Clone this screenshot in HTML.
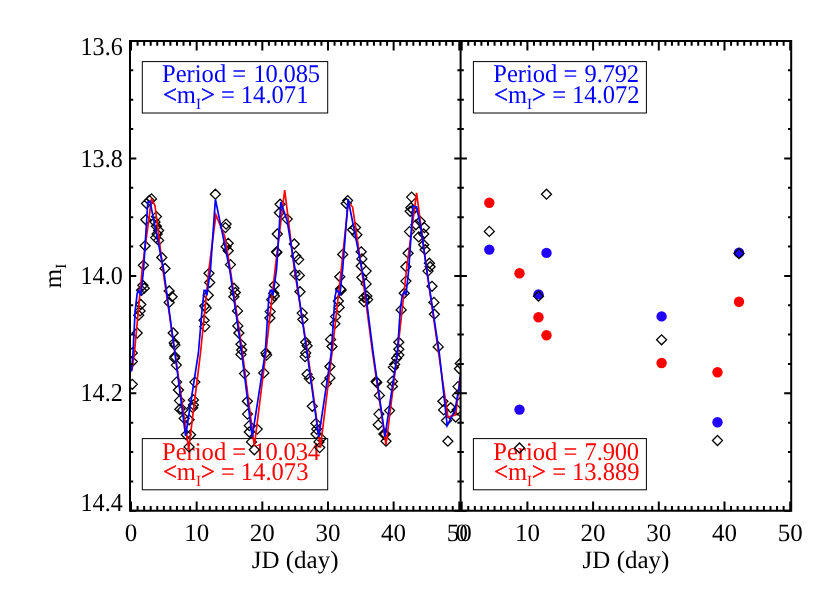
<!DOCTYPE html>
<html><head><meta charset="utf-8"><title>Light curve</title>
<style>html,body{margin:0;padding:0;background:#fff;}svg{display:block;will-change:transform;}text{font-family:"Liberation Serif",serif;text-rendering:geometricPrecision;}</style>
</head><body>
<svg width="830" height="593" viewBox="0 0 830 593">
<rect width="830" height="593" fill="#fff"/>
<defs><clipPath id="cl"><rect x="130.0" y="41.0" width="330.6" height="469.85"/></clipPath>
<clipPath id="cr"><rect x="460.6" y="41.0" width="330.6" height="469.85"/></clipPath></defs>
<rect x="142.3" y="61.6" width="185.39999999999998" height="51.4" fill="none" stroke="#000" stroke-width="1.0"/>
<rect x="142.3" y="438.6" width="185.39999999999998" height="51.19999999999999" fill="none" stroke="#000" stroke-width="1.0"/>
<rect x="473.4" y="61.6" width="173.0" height="51.4" fill="none" stroke="#000" stroke-width="1.0"/>
<rect x="473.4" y="438.6" width="173.0" height="51.19999999999999" fill="none" stroke="#000" stroke-width="1.0"/>
<text transform="translate(162.0,82.1) scale(1,1.035)" font-size="24.6" fill="#00f">Period =<tspan dx="7.2" letter-spacing="-0.2">10.085</tspan></text>
<text transform="translate(162.9,102.7) scale(1,1.035)" font-size="24.6" fill="#00f"><tspan stroke="#00f" stroke-width="0.5">&lt;</tspan>m<tspan font-size="15.0" dy="5.8">I</tspan><tspan dy="-5.8" stroke="#00f" stroke-width="0.5">&gt;</tspan> =<tspan dx="6.0">14.071</tspan></text>
<text transform="translate(162.0,459.8) scale(1,1.035)" font-size="24.6" fill="#f00">Period =<tspan dx="7.2" letter-spacing="-0.2">10.034</tspan></text>
<text transform="translate(162.9,480.4) scale(1,1.035)" font-size="24.6" fill="#f00"><tspan stroke="#f00" stroke-width="0.5">&lt;</tspan>m<tspan font-size="15.0" dy="5.8">I</tspan><tspan dy="-5.8" stroke="#f00" stroke-width="0.5">&gt;</tspan> =<tspan dx="6.0">14.073</tspan></text>
<text transform="translate(493.2,82.1) scale(1,1.035)" font-size="24.6" fill="#00f">Period =<tspan dx="7.2" letter-spacing="-0.2">9.792</tspan></text>
<text transform="translate(494.09999999999997,102.7) scale(1,1.035)" font-size="24.6" fill="#00f"><tspan stroke="#00f" stroke-width="0.5">&lt;</tspan>m<tspan font-size="15.0" dy="5.8">I</tspan><tspan dy="-5.8" stroke="#00f" stroke-width="0.5">&gt;</tspan> =<tspan dx="6.0">14.072</tspan></text>
<text transform="translate(493.2,459.8) scale(1,1.035)" font-size="24.6" fill="#f00">Period =<tspan dx="7.2" letter-spacing="-0.2">7.900</tspan></text>
<text transform="translate(494.09999999999997,480.4) scale(1,1.035)" font-size="24.6" fill="#f00"><tspan stroke="#f00" stroke-width="0.5">&lt;</tspan>m<tspan font-size="15.0" dy="5.8">I</tspan><tspan dy="-5.8" stroke="#f00" stroke-width="0.5">&gt;</tspan> =<tspan dx="6.0">13.889</tspan></text>
<g clip-path="url(#cl)">
<path d="M210.4 194.2L215.4 189.2L220.4 194.2L215.4 199.2ZM146.5 198.9L151.5 193.9L156.5 198.9L151.5 203.9ZM144.3 200.4L149.3 195.4L154.3 200.4L149.3 205.4ZM141.5 203.5L146.5 198.5L151.5 203.5L146.5 208.5ZM140.8 219.8L145.8 214.8L150.8 219.8L145.8 224.8ZM151.4 216.6L156.4 211.6L161.4 216.6L156.4 221.6ZM150.0 222.0L155.0 217.0L160.0 222.0L155.0 227.0ZM151.4 226.2L156.4 221.2L161.4 226.2L156.4 231.2ZM153.6 230.5L158.6 225.5L163.6 230.5L158.6 235.5ZM152.1 234.0L157.1 229.0L162.1 234.0L157.1 239.0ZM150.7 237.6L155.7 232.6L160.7 237.6L155.7 242.6ZM153.6 240.4L158.6 235.4L163.6 240.4L158.6 245.4ZM140.1 245.8L145.1 240.8L150.1 245.8L145.1 250.8ZM156.8 257.5L161.8 252.5L166.8 257.5L161.8 262.5ZM138.4 265.3L143.4 260.3L148.4 265.3L143.4 270.3ZM160.0 268.5L165.0 263.5L170.0 268.5L165.0 273.5ZM221.1 224.1L226.1 219.1L231.1 224.1L226.1 229.1ZM220.4 227.6L225.4 222.6L230.4 227.6L225.4 232.6ZM223.2 243.3L228.2 238.3L233.2 243.3L228.2 248.3ZM221.1 246.8L226.1 241.8L231.1 246.8L226.1 251.8ZM223.2 250.7L228.2 245.7L233.2 250.7L228.2 255.7ZM225.4 264.6L230.4 259.6L235.4 264.6L230.4 269.6ZM137.9 285.3L142.9 280.3L147.9 285.3L142.9 290.3ZM139.3 288.2L144.3 283.2L149.3 288.2L144.3 293.2ZM136.5 290.3L141.5 285.3L146.5 290.3L141.5 295.3ZM164.2 291.0L169.2 286.0L174.2 291.0L169.2 296.0ZM167.1 296.7L172.1 291.7L177.1 296.7L172.1 301.7ZM164.2 302.4L169.2 297.4L174.2 302.4L169.2 307.4ZM135.8 304.5L140.8 299.5L145.8 304.5L140.8 309.5ZM135.1 310.9L140.1 305.9L145.1 310.9L140.1 315.9ZM133.7 315.2L138.7 310.2L143.7 315.2L138.7 320.2ZM132.2 333.0L137.2 328.0L142.2 333.0L137.2 338.0ZM168.2 333.0L173.2 328.0L178.2 333.0L173.2 338.0ZM169.2 342.9L174.2 337.9L179.2 342.9L174.2 347.9ZM169.9 345.0L174.9 340.0L179.9 345.0L174.9 350.0ZM127.3 352.9L132.3 347.9L137.3 352.9L132.3 357.9ZM204.0 273.3L209.0 268.3L214.0 273.3L209.0 278.3ZM204.7 282.5L209.7 277.5L214.7 282.5L209.7 287.5ZM203.3 295.3L208.3 290.3L213.3 295.3L208.3 300.3ZM199.8 306.0L204.8 301.0L209.8 306.0L204.8 311.0ZM201.2 308.1L206.2 303.1L211.2 308.1L206.2 313.1ZM199.1 320.2L204.1 315.2L209.1 320.2L204.1 325.2ZM199.8 326.6L204.8 321.6L209.8 326.6L204.8 331.6ZM228.9 288.2L233.9 283.2L238.9 288.2L233.9 293.2ZM230.3 292.5L235.3 287.5L240.3 292.5L235.3 297.5ZM228.9 296.7L233.9 291.7L238.9 296.7L233.9 301.7ZM232.5 310.9L237.5 305.9L242.5 310.9L237.5 315.9ZM232.8 325.9L237.8 320.9L242.8 325.9L237.8 330.9ZM233.9 333.0L238.9 328.0L243.9 333.0L238.9 338.0ZM236.0 344.3L241.0 339.3L246.0 344.3L241.0 349.3ZM236.7 350.0L241.7 345.0L246.7 350.0L241.7 355.0ZM127.3 361.5L132.3 356.5L137.3 361.5L132.3 366.5ZM127.3 384.3L132.3 379.3L137.3 384.3L132.3 389.3ZM169.9 356.6L174.9 351.6L179.9 356.6L174.9 361.6ZM169.5 358.2L174.5 353.2L179.5 358.2L174.5 363.2ZM171.3 365.1L176.3 360.1L181.3 365.1L176.3 370.1ZM171.6 382.1L176.6 377.1L181.6 382.1L176.6 387.1ZM189.8 382.1L194.8 377.1L199.8 382.1L194.8 387.1ZM173.5 390.0L178.5 385.0L183.5 390.0L178.5 395.0ZM174.5 400.6L179.5 395.6L184.5 400.6L179.5 405.6ZM188.4 399.9L193.4 394.9L198.4 399.9L193.4 404.9ZM188.4 404.9L193.4 399.9L198.4 404.9L193.4 409.9ZM187.7 407.7L192.7 402.7L197.7 407.7L192.7 412.7ZM174.9 409.2L179.9 404.2L184.9 409.2L179.9 414.2ZM177.7 409.9L182.7 404.9L187.7 409.9L182.7 414.9ZM179.2 418.4L184.2 413.4L189.2 418.4L184.2 423.4ZM184.1 419.8L189.1 414.8L194.1 419.8L189.1 424.8ZM181.3 434.8L186.3 429.8L191.3 434.8L186.3 439.8ZM185.6 434.8L190.6 429.8L195.6 434.8L190.6 439.8ZM184.1 446.9L189.1 441.9L194.1 446.9L189.1 451.9ZM236.0 354.4L241.0 349.4L246.0 354.4L241.0 359.4ZM275.1 204.2L280.1 199.2L285.1 204.2L280.1 209.2ZM274.4 212.7L279.4 207.7L284.4 212.7L279.4 217.7ZM282.2 219.1L287.2 214.1L292.2 219.1L287.2 224.1ZM272.3 234.0L277.3 229.0L282.3 234.0L277.3 239.0ZM289.3 244.0L294.3 239.0L299.3 244.0L294.3 249.0ZM271.6 251.8L276.6 246.8L281.6 251.8L276.6 256.8ZM271.9 252.5L276.9 247.5L281.9 252.5L276.9 257.5ZM290.8 256.1L295.8 251.1L300.8 256.1L295.8 261.1ZM293.6 259.6L298.6 254.6L303.6 259.6L298.6 264.6ZM342.6 200.6L347.6 195.6L352.6 200.6L347.6 205.6ZM341.2 203.5L346.2 198.5L351.2 203.5L346.2 208.5ZM350.5 227.6L355.5 222.6L360.5 227.6L355.5 232.6ZM347.6 229.8L352.6 224.8L357.6 229.8L352.6 234.8ZM351.9 234.8L356.9 229.8L361.9 234.8L356.9 239.8ZM337.7 254.4L342.7 249.4L347.7 254.4L342.7 259.4ZM356.2 251.8L361.2 246.8L366.2 251.8L361.2 256.8ZM356.9 258.9L361.9 253.9L366.9 258.9L361.9 263.9ZM356.2 266.0L361.2 261.0L366.2 266.0L361.2 271.0ZM269.4 285.3L274.4 280.3L279.4 285.3L274.4 290.3ZM268.7 293.2L273.7 288.2L278.7 293.2L273.7 298.2ZM269.4 296.0L274.4 291.0L279.4 296.0L274.4 301.0ZM266.6 299.6L271.6 294.6L276.6 299.6L271.6 304.6ZM265.2 311.6L270.2 306.6L275.2 311.6L270.2 316.6ZM264.9 318.0L269.9 313.0L274.9 318.0L269.9 323.0ZM260.9 352.9L265.9 347.9L270.9 352.9L265.9 357.9ZM290.0 274.0L295.0 269.0L300.0 274.0L295.0 279.0ZM294.3 275.4L299.3 270.4L304.3 275.4L299.3 280.4ZM295.0 291.7L300.0 286.7L305.0 291.7L300.0 296.7ZM297.2 313.1L302.2 308.1L307.2 313.1L302.2 318.1ZM297.9 319.5L302.9 314.5L307.9 319.5L302.9 324.5ZM300.7 342.2L305.7 337.2L310.7 342.2L305.7 347.2ZM302.1 345.8L307.1 340.8L312.1 345.8L307.1 350.8ZM300.7 352.9L305.7 347.9L310.7 352.9L305.7 357.9ZM334.8 276.8L339.8 271.8L344.8 276.8L339.8 281.8ZM335.5 288.9L340.5 283.9L345.5 288.9L340.5 293.9ZM336.2 290.0L341.2 285.0L346.2 290.0L341.2 295.0ZM333.4 301.0L338.4 296.0L343.4 301.0L338.4 306.0ZM334.1 307.4L339.1 302.4L344.1 307.4L339.1 312.4ZM330.6 316.6L335.6 311.6L340.6 316.6L335.6 321.6ZM329.9 323.7L334.9 318.7L339.9 323.7L334.9 328.7ZM325.6 339.4L330.6 334.4L335.6 339.4L330.6 344.4ZM327.0 346.5L332.0 341.5L337.0 346.5L332.0 351.5ZM356.9 277.5L361.9 272.5L366.9 277.5L361.9 282.5ZM359.0 297.4L364.0 292.4L369.0 297.4L364.0 302.4ZM359.0 301.7L364.0 296.7L369.0 301.7L364.0 306.7ZM261.6 355.1L266.6 350.1L271.6 355.1L266.6 360.1ZM258.8 372.9L263.8 367.9L268.8 372.9L263.8 377.9ZM239.5 373.6L244.5 368.6L249.5 373.6L244.5 378.6ZM242.4 401.3L247.4 396.3L252.4 401.3L247.4 406.3ZM242.5 414.1L247.5 409.1L252.5 414.1L247.5 419.1ZM252.2 429.1L257.2 424.1L262.2 429.1L257.2 434.1ZM244.3 425.6L249.3 420.6L254.3 425.6L249.3 430.6ZM244.3 432.0L249.3 427.0L254.3 432.0L249.3 437.0ZM246.5 441.9L251.5 436.9L256.5 441.9L251.5 446.9ZM249.3 449.8L254.3 444.8L259.3 449.8L254.3 454.8ZM300.0 356.6L305.0 351.6L310.0 356.6L305.0 361.6ZM302.1 374.3L307.1 369.3L312.1 374.3L307.1 379.3ZM304.3 378.6L309.3 373.6L314.3 378.6L309.3 383.6ZM324.9 366.5L329.9 361.5L334.9 366.5L329.9 371.5ZM324.9 377.9L329.9 372.9L334.9 377.9L329.9 382.9ZM321.3 383.6L326.3 378.6L331.3 383.6L326.3 388.6ZM307.3 406.3L312.3 401.3L317.3 406.3L312.3 411.3ZM310.9 423.4L315.9 418.4L320.9 423.4L315.9 428.4ZM311.7 429.1L316.7 424.1L321.7 429.1L316.7 434.1ZM311.0 434.0L316.0 429.0L321.0 434.0L316.0 439.0ZM316.1 438.4L321.1 433.4L326.1 438.4L321.1 443.4ZM314.0 441.9L319.0 436.9L324.0 441.9L319.0 446.9ZM314.7 447.6L319.7 442.6L324.7 447.6L319.7 452.6ZM406.6 197.1L411.6 192.1L416.6 197.1L411.6 202.1ZM405.9 207.7L410.9 202.7L415.9 207.7L410.9 212.7ZM405.2 211.3L410.2 206.3L415.2 211.3L410.2 216.3ZM408.0 209.9L413.0 204.9L418.0 209.9L413.0 214.9ZM415.2 221.3L420.2 216.3L425.2 221.3L420.2 226.3ZM410.9 224.8L415.9 219.8L420.9 224.8L415.9 229.8ZM419.4 227.6L424.4 222.6L429.4 227.6L424.4 232.6ZM404.5 231.6L409.5 226.6L414.5 231.6L409.5 236.6ZM418.7 234.0L423.7 229.0L428.7 234.0L423.7 239.0ZM413.7 236.9L418.7 231.9L423.7 236.9L418.7 241.9ZM418.7 244.7L423.7 239.7L428.7 244.7L423.7 249.7ZM420.1 249.7L425.1 244.7L430.1 249.7L425.1 254.7ZM403.1 253.2L408.1 248.2L413.1 253.2L408.1 258.2ZM424.4 263.2L429.4 258.2L434.4 263.2L429.4 268.2ZM425.1 266.7L430.1 261.7L435.1 266.7L430.1 271.7ZM400.9 266.7L405.9 261.7L410.9 266.7L405.9 271.7ZM361.1 271.1L366.1 266.1L371.1 271.1L366.1 276.1ZM361.1 283.9L366.1 278.9L371.1 283.9L366.1 288.9ZM361.8 296.0L366.8 291.0L371.8 296.0L366.8 301.0ZM362.6 299.6L367.6 294.6L372.6 299.6L367.6 304.6ZM400.9 281.1L405.9 276.1L410.9 281.1L405.9 286.1ZM399.2 293.2L404.2 288.2L409.2 293.2L404.2 298.2ZM396.2 309.9L401.2 304.9L406.2 309.9L401.2 314.9ZM393.8 342.2L398.8 337.2L403.8 342.2L398.8 347.2ZM393.8 349.3L398.8 344.3L403.8 349.3L398.8 354.3ZM423.0 271.1L428.0 266.1L433.0 271.1L428.0 276.1ZM427.0 286.3L432.0 281.3L437.0 286.3L432.0 291.3ZM428.9 302.4L433.9 297.4L438.9 302.4L433.9 307.4ZM429.4 314.2L434.4 309.2L439.4 314.2L434.4 319.2ZM433.2 346.9L438.2 341.9L443.2 346.9L438.2 351.9ZM393.8 355.1L398.8 350.1L403.8 355.1L398.8 360.1ZM391.6 358.2L396.6 353.2L401.6 358.2L396.6 363.2ZM389.6 364.4L394.6 359.4L399.6 364.4L394.6 369.4ZM388.4 367.3L393.4 362.3L398.4 367.3L393.4 372.3ZM371.1 381.4L376.1 376.4L381.1 381.4L376.1 386.4ZM371.8 382.5L376.8 377.5L381.8 382.5L376.8 387.5ZM387.4 381.4L392.4 376.4L397.4 381.4L392.4 386.4ZM387.4 386.4L392.4 381.4L397.4 386.4L392.4 391.4ZM374.4 395.4L379.4 390.4L384.4 395.4L379.4 400.4ZM384.6 410.6L389.6 405.6L394.6 410.6L389.6 415.6ZM373.9 414.1L378.9 409.1L383.9 414.1L378.9 419.1ZM373.2 424.8L378.2 419.8L383.2 424.8L378.2 429.8ZM378.9 434.0L383.9 429.0L388.9 434.0L383.9 439.0ZM380.3 434.1L385.3 429.1L390.3 434.1L385.3 439.1ZM381.0 441.2L386.0 436.2L391.0 441.2L386.0 446.2ZM455.3 363.5L460.3 358.5L465.3 363.5L460.3 368.5ZM454.4 368.8L459.4 363.8L464.4 368.8L459.4 373.8ZM453.0 386.6L458.0 381.6L463.0 386.6L458.0 391.6ZM452.4 395.4L457.4 390.4L462.4 395.4L457.4 400.4ZM437.9 401.3L442.9 396.3L447.9 401.3L442.9 406.3ZM445.7 407.7L450.7 402.7L455.7 407.7L450.7 412.7ZM438.6 409.9L443.6 404.9L448.6 409.9L443.6 414.9ZM452.1 409.9L457.1 404.9L462.1 409.9L457.1 414.9ZM441.5 420.5L446.5 415.5L451.5 420.5L446.5 425.5ZM450.7 417.0L455.7 412.0L460.7 417.0L455.7 422.0ZM442.9 441.2L447.9 436.2L452.9 441.2L447.9 446.2Z" fill="none" stroke="#000" stroke-width="1.3"/>
<polyline points="132.0,370 134.4,353 142.2,269 151.5,199.2 155,205.5 162.8,269 175.0,353 188.7,449.2 200.5,353 209,269 215.9,214.9 224.7,236.2 230.2,269 242.5,353 254.3,446.2 265.9,353 275.1,269 284.7,190 294.3,269 307.7,353 320.4,447.6 332,353 341.3,269 348.4,202 352.6,207 361.6,269 372.6,353 386,444.8 397.4,353 406.6,269 416.6,192.8 426.6,269 438.6,353 447.9,417.1 455.7,414.9 460,377" fill="none" stroke="#f00" stroke-width="1.7" stroke-linejoin="miter"/>
<polyline points="131.6,371.5 133,353 135.1,311.6 137.2,293.2 138.7,290.3 140.8,295.3 143.6,269 147.8,202.4 150,201.3 163.5,269 174.9,353 185.6,436 198.4,353 201.9,311.6 204.1,290.3 205.5,290.3 206.9,295.3 210.5,269 215.4,199.2 229.6,269 241.7,353 252.2,437 265.2,353 268.7,299.6 270.2,290.3 271.6,290.3 273,295.3 276.6,269 280.8,202.1 287.2,221 295,269 307.1,353 318.7,437 331.3,353 334.9,297.4 336.3,290.3 338.4,291.7 339.8,296 342.7,269 348.1,199.2 361.9,269 364,280.4 373.2,353 385,436.3 397.4,353 400.3,308.8 402.4,294.6 404.5,291.7 405.9,295.3 408.8,269 413,206.3 416.6,207 420.9,227.6 426.6,269 439.3,353 447.2,425.6 455,409.9 459.3,385.7 460.5,375" fill="none" stroke="#00f" stroke-width="1.7" stroke-linejoin="miter"/>
</g>
<g clip-path="url(#cr)">
<circle cx="489.3" cy="202.7" r="5.2" fill="#f00"/>
<circle cx="519.5" cy="273.2" r="5.2" fill="#f00"/>
<circle cx="538.5" cy="317.3" r="5.2" fill="#f00"/>
<circle cx="546.5" cy="335.3" r="5.2" fill="#f00"/>
<circle cx="661.6" cy="363.0" r="5.2" fill="#f00"/>
<circle cx="717.5" cy="372.2" r="5.2" fill="#f00"/>
<circle cx="739.0" cy="301.8" r="5.2" fill="#f00"/>
<circle cx="489.3" cy="249.6" r="5.2" fill="#2200ff"/>
<circle cx="519.5" cy="409.6" r="5.2" fill="#2200ff"/>
<circle cx="538.5" cy="294.4" r="5.2" fill="#2200ff"/>
<circle cx="546.5" cy="252.9" r="5.2" fill="#2200ff"/>
<circle cx="661.6" cy="316.4" r="5.2" fill="#2200ff"/>
<circle cx="717.5" cy="422.3" r="5.2" fill="#2200ff"/>
<circle cx="739.0" cy="252.6" r="5.2" fill="#2200ff"/>
<path d="M484.3 231.4L489.3 226.4L494.3 231.4L489.3 236.4ZM514.5 448.0L519.5 443.0L524.5 448.0L519.5 453.0ZM533.5 296.2L538.5 291.2L543.5 296.2L538.5 301.2ZM541.5 194.2L546.5 189.2L551.5 194.2L546.5 199.2ZM656.6 339.8L661.6 334.8L666.6 339.8L661.6 344.8ZM712.5 440.5L717.5 435.5L722.5 440.5L717.5 445.5ZM734.0 253.5L739.0 248.5L744.0 253.5L739.0 258.5Z" fill="none" stroke="#000" stroke-width="1.3"/>
</g>
<g stroke="#000" stroke-width="2.0" fill="none" stroke-linecap="butt">
<path d="M130.0 40.0V511.85M460.6 40.0V511.85M791.2 40.0V511.85M129.0 41.0H792.2M129.0 510.85H792.2"/>
<path d="M131.00 41.0v9.4M131.00 510.85v-9.4M137.57 41.0v4.8M137.57 510.85v-4.8M144.13 41.0v4.8M144.13 510.85v-4.8M150.70 41.0v4.8M150.70 510.85v-4.8M157.26 41.0v4.8M157.26 510.85v-4.8M163.83 41.0v4.8M163.83 510.85v-4.8M170.40 41.0v4.8M170.40 510.85v-4.8M176.96 41.0v4.8M176.96 510.85v-4.8M183.53 41.0v4.8M183.53 510.85v-4.8M190.09 41.0v4.8M190.09 510.85v-4.8M196.66 41.0v9.4M196.66 510.85v-9.4M203.23 41.0v4.8M203.23 510.85v-4.8M209.79 41.0v4.8M209.79 510.85v-4.8M216.36 41.0v4.8M216.36 510.85v-4.8M222.92 41.0v4.8M222.92 510.85v-4.8M229.49 41.0v4.8M229.49 510.85v-4.8M236.06 41.0v4.8M236.06 510.85v-4.8M242.62 41.0v4.8M242.62 510.85v-4.8M249.19 41.0v4.8M249.19 510.85v-4.8M255.75 41.0v4.8M255.75 510.85v-4.8M262.32 41.0v9.4M262.32 510.85v-9.4M268.89 41.0v4.8M268.89 510.85v-4.8M275.45 41.0v4.8M275.45 510.85v-4.8M282.02 41.0v4.8M282.02 510.85v-4.8M288.58 41.0v4.8M288.58 510.85v-4.8M295.15 41.0v4.8M295.15 510.85v-4.8M301.72 41.0v4.8M301.72 510.85v-4.8M308.28 41.0v4.8M308.28 510.85v-4.8M314.85 41.0v4.8M314.85 510.85v-4.8M321.41 41.0v4.8M321.41 510.85v-4.8M327.98 41.0v9.4M327.98 510.85v-9.4M334.55 41.0v4.8M334.55 510.85v-4.8M341.11 41.0v4.8M341.11 510.85v-4.8M347.68 41.0v4.8M347.68 510.85v-4.8M354.24 41.0v4.8M354.24 510.85v-4.8M360.81 41.0v4.8M360.81 510.85v-4.8M367.38 41.0v4.8M367.38 510.85v-4.8M373.94 41.0v4.8M373.94 510.85v-4.8M380.51 41.0v4.8M380.51 510.85v-4.8M387.07 41.0v4.8M387.07 510.85v-4.8M393.64 41.0v9.4M393.64 510.85v-9.4M400.21 41.0v4.8M400.21 510.85v-4.8M406.77 41.0v4.8M406.77 510.85v-4.8M413.34 41.0v4.8M413.34 510.85v-4.8M419.90 41.0v4.8M419.90 510.85v-4.8M426.47 41.0v4.8M426.47 510.85v-4.8M433.04 41.0v4.8M433.04 510.85v-4.8M439.60 41.0v4.8M439.60 510.85v-4.8M446.17 41.0v4.8M446.17 510.85v-4.8M452.73 41.0v4.8M452.73 510.85v-4.8M459.30 41.0v9.4M459.30 510.85v-9.4M461.70 41.0v9.4M461.70 510.85v-9.4M468.27 41.0v4.8M468.27 510.85v-4.8M474.84 41.0v4.8M474.84 510.85v-4.8M481.41 41.0v4.8M481.41 510.85v-4.8M487.98 41.0v4.8M487.98 510.85v-4.8M494.55 41.0v4.8M494.55 510.85v-4.8M501.12 41.0v4.8M501.12 510.85v-4.8M507.69 41.0v4.8M507.69 510.85v-4.8M514.26 41.0v4.8M514.26 510.85v-4.8M520.83 41.0v4.8M520.83 510.85v-4.8M527.40 41.0v9.4M527.40 510.85v-9.4M533.97 41.0v4.8M533.97 510.85v-4.8M540.54 41.0v4.8M540.54 510.85v-4.8M547.11 41.0v4.8M547.11 510.85v-4.8M553.68 41.0v4.8M553.68 510.85v-4.8M560.25 41.0v4.8M560.25 510.85v-4.8M566.82 41.0v4.8M566.82 510.85v-4.8M573.39 41.0v4.8M573.39 510.85v-4.8M579.96 41.0v4.8M579.96 510.85v-4.8M586.53 41.0v4.8M586.53 510.85v-4.8M593.10 41.0v9.4M593.10 510.85v-9.4M599.67 41.0v4.8M599.67 510.85v-4.8M606.24 41.0v4.8M606.24 510.85v-4.8M612.81 41.0v4.8M612.81 510.85v-4.8M619.38 41.0v4.8M619.38 510.85v-4.8M625.95 41.0v4.8M625.95 510.85v-4.8M632.52 41.0v4.8M632.52 510.85v-4.8M639.09 41.0v4.8M639.09 510.85v-4.8M645.66 41.0v4.8M645.66 510.85v-4.8M652.23 41.0v4.8M652.23 510.85v-4.8M658.80 41.0v9.4M658.80 510.85v-9.4M665.37 41.0v4.8M665.37 510.85v-4.8M671.94 41.0v4.8M671.94 510.85v-4.8M678.51 41.0v4.8M678.51 510.85v-4.8M685.08 41.0v4.8M685.08 510.85v-4.8M691.65 41.0v4.8M691.65 510.85v-4.8M698.22 41.0v4.8M698.22 510.85v-4.8M704.79 41.0v4.8M704.79 510.85v-4.8M711.36 41.0v4.8M711.36 510.85v-4.8M717.93 41.0v4.8M717.93 510.85v-4.8M724.50 41.0v9.4M724.50 510.85v-9.4M731.07 41.0v4.8M731.07 510.85v-4.8M737.64 41.0v4.8M737.64 510.85v-4.8M744.21 41.0v4.8M744.21 510.85v-4.8M750.78 41.0v4.8M750.78 510.85v-4.8M757.35 41.0v4.8M757.35 510.85v-4.8M763.92 41.0v4.8M763.92 510.85v-4.8M770.49 41.0v4.8M770.49 510.85v-4.8M777.06 41.0v4.8M777.06 510.85v-4.8M783.63 41.0v4.8M783.63 510.85v-4.8M790.20 41.0v9.4M790.20 510.85v-9.4"/>
<path d="M130.0 41.00h6.3M454.3 41.00h12.6M791.2 41.00h-7.0M130.0 70.36h3.2M457.40000000000003 70.36h6.4M791.2 70.36h-3.2M130.0 99.72h3.2M457.40000000000003 99.72h6.4M791.2 99.72h-3.2M130.0 129.09h3.2M457.40000000000003 129.09h6.4M791.2 129.09h-3.2M130.0 158.45h6.3M454.3 158.45h12.6M791.2 158.45h-7.0M130.0 187.81h3.2M457.40000000000003 187.81h6.4M791.2 187.81h-3.2M130.0 217.18h3.2M457.40000000000003 217.18h6.4M791.2 217.18h-3.2M130.0 246.54h3.2M457.40000000000003 246.54h6.4M791.2 246.54h-3.2M130.0 275.90h6.3M454.3 275.90h12.6M791.2 275.90h-7.0M130.0 305.26h3.2M457.40000000000003 305.26h6.4M791.2 305.26h-3.2M130.0 334.62h3.2M457.40000000000003 334.62h6.4M791.2 334.62h-3.2M130.0 363.99h3.2M457.40000000000003 363.99h6.4M791.2 363.99h-3.2M130.0 393.35h6.3M454.3 393.35h12.6M791.2 393.35h-7.0M130.0 422.71h3.2M457.40000000000003 422.71h6.4M791.2 422.71h-3.2M130.0 452.07h3.2M457.40000000000003 452.07h6.4M791.2 452.07h-3.2M130.0 481.44h3.2M457.40000000000003 481.44h6.4M791.2 481.44h-3.2M130.0 510.80h6.3M454.3 510.80h12.6M791.2 510.80h-7.0"/>
</g>
<text transform="translate(122.7,55.4) scale(0.963,1.03)" font-size="25" text-anchor="end">13.6</text>
<text transform="translate(122.7,166.5) scale(0.963,1.03)" font-size="25" text-anchor="end">13.8</text>
<text transform="translate(122.7,283.9) scale(0.963,1.03)" font-size="25" text-anchor="end">14.0</text>
<text transform="translate(122.7,401.3) scale(0.963,1.03)" font-size="25" text-anchor="end">14.2</text>
<text transform="translate(122.7,510.6) scale(0.963,1.03)" font-size="25" text-anchor="end">14.4</text>
<text x="131.0" y="541.4" font-size="25" text-anchor="middle">0</text>
<text x="196.7" y="541.4" font-size="25" text-anchor="middle">10</text>
<text x="262.3" y="541.4" font-size="25" text-anchor="middle">20</text>
<text x="328.0" y="541.4" font-size="25" text-anchor="middle">30</text>
<text x="393.6" y="541.4" font-size="25" text-anchor="middle">40</text>
<text x="459.3" y="541.4" font-size="25" text-anchor="middle">50</text>
<text x="461.7" y="541.4" font-size="25" text-anchor="middle">0</text>
<text x="527.4" y="541.4" font-size="25" text-anchor="middle">10</text>
<text x="593.1" y="541.4" font-size="25" text-anchor="middle">20</text>
<text x="658.8" y="541.4" font-size="25" text-anchor="middle">30</text>
<text x="724.5" y="541.4" font-size="25" text-anchor="middle">40</text>
<text x="790.2" y="541.4" font-size="25" text-anchor="middle">50</text>
<text x="295.1" y="568.2" font-size="25" text-anchor="middle">JD (day)</text>
<text x="626.0" y="568.2" font-size="25" text-anchor="middle">JD (day)</text>
<text transform="translate(60.6,288.3) rotate(-90)" font-size="25">m<tspan font-size="15.5" dy="5.2">I</tspan></text>
</svg></body></html>
